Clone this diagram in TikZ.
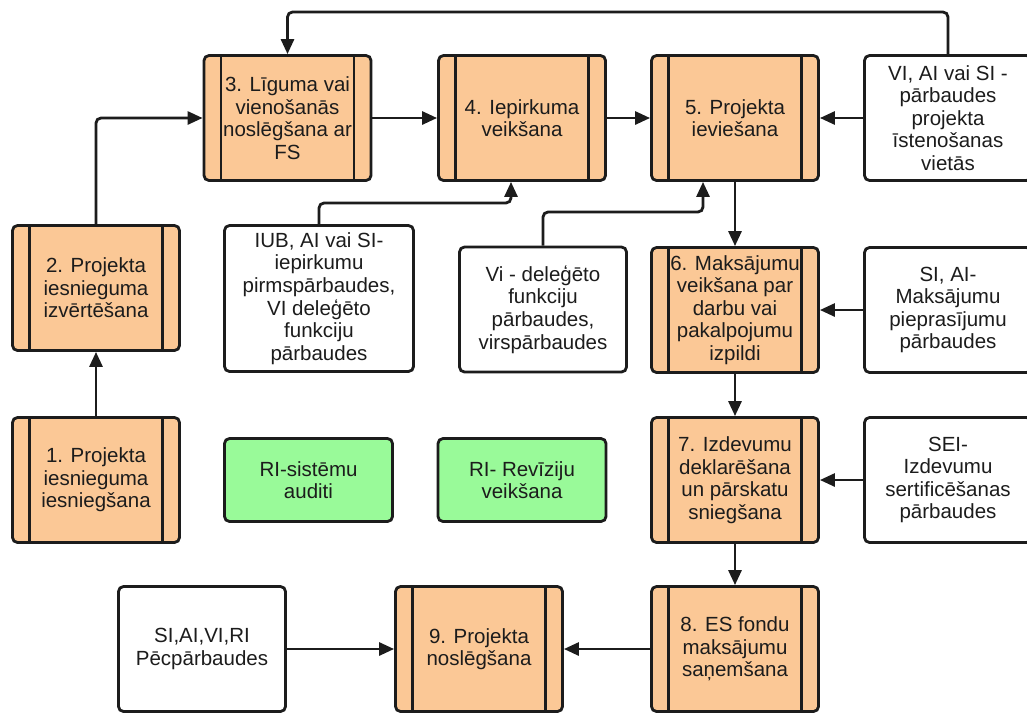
\documentclass[tikz,border=0pt]{standalone}
\usepackage{fontspec}
\setmainfont{Liberation Sans}
\usetikzlibrary{arrows.meta}
\definecolor{procfill}{RGB}{251,200,150}
\definecolor{auditfill}{RGB}{153,250,153}
\definecolor{ink}{RGB}{28,28,28}

\begin{document}
\begin{tikzpicture}[x=1pt,y=-1pt,
  base/.style={rounded corners=5pt, draw=ink, line width=2.8pt, align=center,
    text=ink, font=\fontsize{20.5}{22.6}\selectfont, inner sep=2pt},
  proc/.style={base, fill=procfill, minimum width=167pt, minimum height=125pt,
    path picture={\draw[ink, line width=2.8pt]
      ([xshift=17pt]path picture bounding box.north west) -- ([xshift=17pt]path picture bounding box.south west)
      ([xshift=-17pt]path picture bounding box.north east) -- ([xshift=-17pt]path picture bounding box.south east);}},
  check/.style={base, fill=white, minimum width=167pt, minimum height=125pt},
  audit/.style={base, fill=auditfill, minimum width=168pt, minimum height=83pt},
  link/.style={draw=ink, line width=2.8pt, rounded corners=5pt,
    -{Triangle[length=15pt,width=13pt]}}
]
\useasboundingbox (0,0) rectangle (1027,713);
\fill[white] (0,0) rectangle (1027,713);

% process steps
\node[proc] (n1) at (96,480) {1. Projekta\\iesnieguma\\iesniegšana};
\node[proc] (n2) at (96,288) {2. Projekta\\iesnieguma\\izvērtēšana};
\node[proc] (n3) at (287.5,118) {3. Līguma vai\\vienošanās\\noslēgšana ar\\FS};
\node[proc] (n4) at (522,118) {4. Iepirkuma\\veikšana};
\node[proc] (n5) at (735,118) {5. Projekta\\ieviešana};
\node[proc] (n6) at (735,310) {6. Maksājumu\\veikšana par\\darbu vai\\pakalpojumu\\izpildi};
\node[proc] (n7) at (735,480) {7. Izdevumu\\deklarēšana\\un pārskatu\\sniegšana};
\node[proc] (n8) at (735,649) {8. ES fondu\\maksājumu\\saņemšana};
\node[proc] (n9) at (479,649) {9. Projekta\\noslēgšana};

% checks
\node[check] (vi) at (948,118) {VI, AI vai SI -\\pārbaudes\\projekta\\īstenošanas\\vietās};
\node[check, minimum width=189pt, minimum height=146pt] (iub) at (319,298.5)
  {IUB, AI vai SI-\\iepirkumu\\pirmspārbaudes,\\VI deleģēto\\funkciju\\pārbaudes};
\node[check] (vid) at (543,309.5) {Vi - deleģēto\\funkciju\\pārbaudes,\\virspārbaudes};
\node[check] (siai) at (948,310) {SI, AI-\\Maksājumu\\pieprasījumu\\pārbaudes};
\node[check] (sei) at (948,480) {SEI-\\Izdevumu\\sertificēšanas\\pārbaudes};
\node[check] (post) at (202,649) {SI,AI,VI,RI\\Pēcpārbaudes};

% audits
\node[audit] (ra) at (308.5,480) {RI-sistēmu\\auditi};
\node[audit] (rr) at (522,480) {RI- Revīziju\\veikšana};

% connectors
\coordinate (top) at (600,12);
\coordinate (j4) at (511,203);
\coordinate (j5) at (703,212);
\draw[link] (n1.north) -- (n2.south);
\draw[link] (n2.north) |- (n3.west);
\draw[link] (n3.east) -- (n4.west);
\draw[link] (n4.east) -- (n5.west);
\draw[link] (vi.west) -- (n5.east);
\draw[link] (vi.north) |- (top) -| (n3.north);
\draw[link] (iub.north) |- (j4) -- (j4 |- n4.south);
\draw[link] (vid.north) |- (j5) -- (j5 |- n5.south);
\draw[link] (n5.south) -- (n6.north);
\draw[link] (siai.west) -- (n6.east);
\draw[link] (n6.south) -- (n7.north);
\draw[link] (sei.west) -- (n7.east);
\draw[link] (n7.south) -- (n8.north);
\draw[link] (n8.west) -- (n9.east);
\draw[link] (post.east) -- (n9.west);
\end{tikzpicture}
\end{document}
